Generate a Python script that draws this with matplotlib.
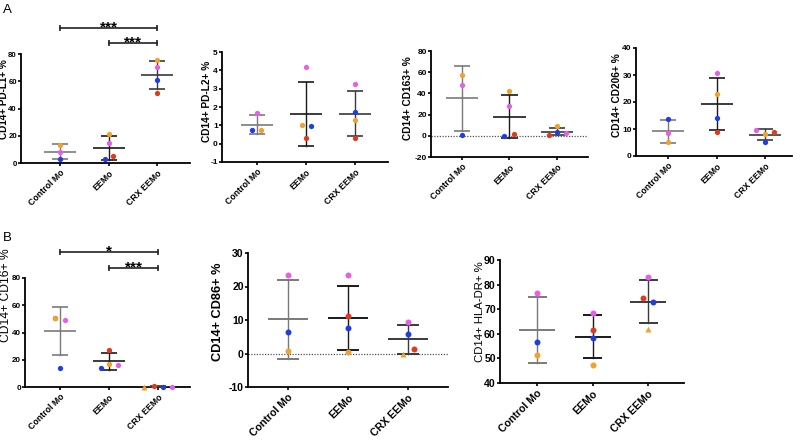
import numpy as np
import matplotlib
matplotlib.use("Agg")
import matplotlib.pyplot as plt

plt.rcParams['font.family'] = ['Liberation Sans', 'DejaVu Sans']

nan = np.nan
groups = ["Control Mo", "EEMo", "CRX EEMo"]

# donor values per group: [Control Mo, EEMo, CRX EEMo]
pdl1 = {"blue": [2.7, 2.7, 61.0], "orange": [13.5, 21.4, 75.4],
        "pink": [8.4, 14.5, 70.4], "red": [nan, 4.9, 51.7]}
pdl2 = {"blue": [0.73, 0.95, 1.71], "orange": [0.73, 1.0, 1.31],
        "pink": [1.67, 4.16, 3.25], "red": [nan, 0.31, 0.31]}
cd163 = {"blue": [0.3, 0.2, 3.3], "orange": [57.7, 42.0, 8.9],
         "pink": [47.9, 28.1, 2.6], "red": [nan, 1.7, 0.8]}
cd206 = {"blue": [13.7, 13.9, 5.1], "orange": [5.3, 22.9, 8.2],
         "pink": [8.4, 30.7, 9.7], "red": [nan, 9.0, 8.8]}
cd16 = {"blue": [14.2, 14.0, 0.2], "orange": [50.6, 17.1, 0.0],
        "pink": [48.9, 16.4, 0.2], "red": [50.4, 27.4, 0.5]}
cd86 = {"blue": [6.5, 7.6, 5.8], "orange": [0.75, 0.35, 0.0],
        "pink": [23.5, 23.3, 9.5], "red": [nan, 11.3, 1.45]}
hladr = {"blue": [56.6, 58.2, 72.8], "orange": [51.4, 47.2, 61.8],
         "pink": [76.6, 68.5, 83.1], "red": [nan, 61.6, 74.7]}

ylabels = ["CD14+ PD-L1+ %", "CD14+ PD-L2+ %", "CD14+ CD163+ %", "CD14+ CD206+ %",
           "CD14+ CD16+ %", "CD14+ CD86+ %", "CD14+ HLA-DR+ %"]

# significance: (group_a, group_b, label)
sig_pdl1 = [(0, 2, "***"), (1, 2, "***")]
sig_cd16 = [(0, 2, "*"), (1, 2, "***")]

# ---------------- style ----------------
donor_colors = {"blue": "#1f3ee0", "orange": "#f0a12e", "pink": "#e65fe6", "red": "#e0391c"}
donor_z = {"blue": 5, "orange": 5, "pink": 5, "red": 4.5}
bar_colors = ["#7a7a7a", "#1a1a1a", "#3a3a3a"]
W, H = 800, 440
fig = plt.figure(figsize=(8, 4.4), dpi=100)


def px_axes(x0, x1, ytop, ybot):
    return fig.add_axes([x0 / W, 1 - ybot / H, (x1 - x0) / W, (ybot - ytop) / H])


panels = [
    dict(data=pdl1, box=(21, 190, 54, 163), cats=(60, 157), ylim=(0, 80), step=20,
         lab=(8.6, 99), lfs=7.2, lbold=True, tfs=6.3, yfs=5.6, mw=16, cw=8, ms=3.8, zero=False,
         jit={(1, "blue"): -4, (1, "red"): 4}, sig=sig_pdl1, brk=(28, 43)),
    dict(data=pdl2, box=(222, 388, 52, 162), cats=(257, 355), ylim=(-1, 5), step=1,
         lab=(212, 101), lfs=7.3, lbold=True, tfs=6.3, yfs=6, mw=16, cw=8, ms=3.8, zero=False,
         jit={(0, "blue"): -5, (0, "orange"): 4, (1, "orange"): -4, (1, "blue"): 5}),
    dict(data=cd163, box=(431, 588, 51, 157), cats=(462, 557), ylim=(-20, 80), step=20,
         lab=(413, 98), lfs=7.3, lbold=True, tfs=6.3, yfs=6, mw=16, cw=8, ms=3.8, zero=True,
         jit={(1, "blue"): -5, (1, "red"): 4, (2, "red"): -8, (2, "pink"): 9}),
    dict(data=cd206, box=(636, 792, 48, 156), cats=(668, 765), ylim=(0, 40), step=10,
         lab=(622, 95), lfs=7.3, lbold=True, tfs=6.3, yfs=6, mw=16, cw=8, ms=3.8, zero=False,
         jit={(2, "pink"): -9, (2, "red"): 9}),
    dict(data=cd16, box=(25, 190, 278, 387), cats=(60, 158), ylim=(0, 80), step=20,
         lab=(12.3, 295), lfs=8.7, lbold=False, tfs=6.3, yfs=5.8, mw=16, cw=8, ms=3.8, zero=False,
         jit={(0, "orange"): -5, (0, "red"): -5, (0, "pink"): 5, (1, "blue"): -8, (1, "pink"): 9,
              (2, "orange"): -14, (2, "red"): -4.5, (2, "blue"): 5, (2, "pink"): 14},
         tri=True, sig=sig_cd16, brk=(252, 268)),
    dict(data=cd86, box=(248, 448, 253, 387), cats=(288, 408), ylim=(-10, 30), step=10,
         lab=(224, 312), lfs=9.2, lbold=True, tfs=7.6, yfs=7.6, mw=20, cw=11, ms=4.3, zero=True,
         jit={(2, "red"): 6, (2, "orange"): -5}, tri=True),
    dict(data=hladr, box=(500, 684, 260, 383), cats=(537, 648), ylim=(40, 90), step=10,
         lab=(485, 312), lfs=8.2, lbold=False, tfs=7.6, yfs=7.6, mw=18, cw=9.5, ms=4.3, zero=False,
         jit={(2, "red"): -5, (2, "blue"): 5}, tri=True),
]

for i, p in enumerate(panels):
    x0, x1, ytop, ybot = p["box"]
    c0, c2 = p["cats"]
    s = (c2 - c0) / 2.0  # px per category unit
    ax = px_axes(x0, x1, ytop, ybot)
    ax.set_xlim(-(c0 - x0) / s, 2 + (x1 - c2) / s)
    ax.set_ylim(*p["ylim"])
    for sp in ["top", "right"]:
        ax.spines[sp].set_visible(False)
    for sp in ["left", "bottom"]:
        ax.spines[sp].set_linewidth(1.3)
        ax.spines[sp].set_color("black")
    ax.patch.set_alpha(0)
    yt = np.arange(p["ylim"][0], p["ylim"][1] + p["step"] / 2, p["step"])
    ax.set_yticks(yt)
    ax.set_yticklabels([f"{v:g}" for v in yt], fontsize=p["yfs"], fontweight="bold")
    ax.set_xticks(range(3))
    ax.set_xticklabels(groups, rotation=45, ha="right", rotation_mode="anchor",
                       fontsize=p["tfs"], fontweight="bold")
    ax.tick_params(axis="both", length=2, width=1.2, color="black", pad=1)
    ax.tick_params(axis="x", pad=2)
    ax.set_ylabel(ylabels[i], fontsize=p["lfs"], fontweight="bold" if p["lbold"] else "normal")
    lx, ly = p["lab"]
    ax.yaxis.set_label_coords(lx / W, 1 - ly / H, transform=fig.transFigure)

    if p["zero"]:
        ax.axhline(0, color="#555555", lw=0.9, ls=(0, (1, 1.2)), zorder=1)

    data = p["data"]
    donors = list(data.keys())
    for g in range(3):
        vals = np.array([data[d][g] for d in donors], dtype=float)
        vals = vals[~np.isnan(vals)]
        m = vals.mean()
        sd = vals.std(ddof=1)
        col = bar_colors[g]
        mw = p["mw"] / s
        cw = p["cw"] / s
        lwm = 1.4 if p["mw"] > 16 else 1.2
        ax.plot([g - mw, g + mw], [m, m], color=col, lw=lwm, zorder=3, solid_capstyle="butt")
        ax.plot([g, g], [m - sd, m + sd], color=col, lw=1.0, zorder=3)
        for yy in (m - sd, m + sd):
            ax.plot([g - cw, g + cw], [yy, yy], color=col, lw=lwm, zorder=3,
                    solid_capstyle="butt", clip_on=False)
        for d in donors:
            v = data[d][g]
            if np.isnan(v):
                continue
            dx = p["jit"].get((g, d), 0) / s
            mk = "^" if (p.get("tri") and g == 2 and d == "orange") else "o"
            ax.plot([g + dx], [v], marker=mk, ms=p["ms"] + (0.3 if mk == "^" else 0),
                    color=donor_colors[d], mec="none", ls="none", zorder=donor_z[d],
                    clip_on=False)

    if "sig" in p:
        y0, y1 = p["ylim"]
        pxu = (ybot - ytop) / (y1 - y0)
        for (a, b, lab), bpx in zip(p["sig"], p["brk"]):
            yb = y0 + (ybot - bpx) / pxu
            ax.plot([a, b], [yb, yb], color="#222222", lw=1.2, clip_on=False,
                    marker="|", ms=5, mew=1.2)
            ax.annotate(lab, xy=((a + b) / 2, yb), xytext=(0, -2.2), textcoords="offset points",
                        ha="center", va="baseline", fontsize=11, fontweight="bold",
                        annotation_clip=False)

fig.text(3 / W, 1 - 13 / H, "A", fontsize=9.5, ha="left", va="baseline")
fig.text(3 / W, 1 - 241 / H, "B", fontsize=9.5, ha="left", va="baseline")

fig.savefig("out.png", dpi=100)
